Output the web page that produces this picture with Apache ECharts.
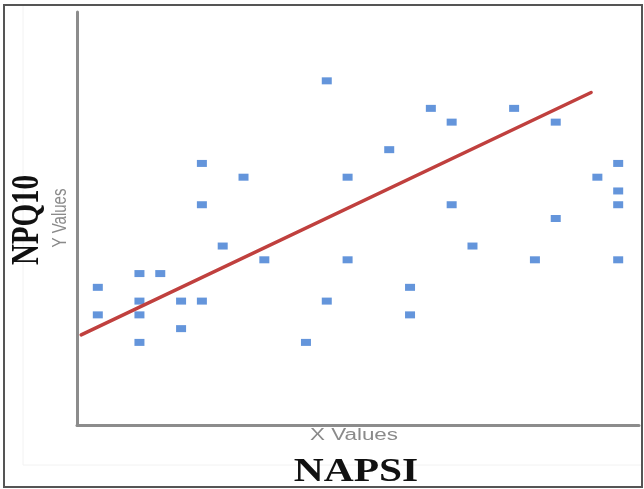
<!DOCTYPE html>
<html>
<head>
<meta charset="utf-8">
<script src="https://cdn.jsdelivr.net/npm/echarts@6/dist/echarts.min.js"></script>
<style>html,body{margin:0;padding:0;background:#fff}#c{width:644px;height:489px}</style>
</head>
<body>
<div id="c"></div>
<script>
// NAPSI (x) and NPQ10 (y) values
const napsi = [1,1,3,3,3,3,4,5,5,6,6,6,7,8,9,11,12,12,13,13,15,16,16,17,18,18,19,21,22,23,23,25,26,26,26,26];
const npq10 = [10,8,11,9,8,6,11,9,7,19,16,9,13,18,12,6,25,9,18,12,20,10,8,23,22,16,13,23,12,22,15,18,19,17,16,12];
// trend line end points
const trendX = [0.2, 24.7];
const trendY = [6.55, 24.15];
const xTitle = 'NAPSI';
const yTitle = 'NPQ10';
const xSub = 'X Values';
const ySub = 'Y Values';

const points = napsi.map((v, i) => [v, npq10[i]]);
const trend = trendX.map((v, i) => [v, trendY[i]]);

const chart = echarts.init(document.getElementById('c'), null, {renderer: 'canvas'});
const axisCommon = {
  type: 'value',
  axisLine: {show: true, onZero: false, lineStyle: {color: '#8c8c8c', width: 3}},
  axisTick: {show: false},
  axisLabel: {show: false},
  splitLine: {show: false}
};
chart.setOption({
  animation: false,
  backgroundColor: '#fff',
  grid: {left: 77, right: 5, top: 12, bottom: 64},
  xAxis: Object.assign({}, axisCommon, {min: 0, max: 27}),
  yAxis: Object.assign({}, axisCommon, {min: 0, max: 30}),
  series: [
    {
      type: 'scatter',
      data: points,
      symbol: 'rect',
      symbolSize: [10, 7],
      itemStyle: {color: '#3d7bd2'},
      z: 2
    },
    {
      type: 'line',
      data: trend,
      showSymbol: false,
      symbol: 'none',
      lineStyle: {color: '#c0403e', width: 3.5, cap: 'round'},
      z: 3
    }
  ],
  graphic: [
    {type: 'polyline', shape: {points: [[23, 5], [23, 465], [642, 465]]}, style: {stroke: '#f2f2f2', lineWidth: 1, fill: null}, silent: true},
    {type: 'rect', shape: {x: 4, y: 5, width: 638, height: 482}, style: {stroke: '#555', lineWidth: 2, fill: null}, silent: true},
    {type: 'text', x: 354, y: 436, scaleX: 1.4, style: {text: xSub, font: '16px "Liberation Sans", Arial', fill: '#8a8a8a', align: 'center', verticalAlign: 'middle'}},
    {type: 'text', x: 356, y: 472, scaleX: 1.22, style: {text: xTitle, font: 'bold 34px "Liberation Serif", "Times New Roman"', fill: '#111', align: 'center', verticalAlign: 'middle'}},
    {type: 'text', x: 60, y: 218, rotation: Math.PI / 2, scaleY: 1.35, style: {text: ySub, font: '15px "Liberation Sans", Arial', fill: '#8a8a8a', align: 'center', verticalAlign: 'middle'}},
    {type: 'text', x: 28, y: 220, rotation: Math.PI / 2, scaleY: 1.4, style: {text: yTitle, font: 'bold 29px "Liberation Serif", "Times New Roman"', fill: '#111', align: 'center', verticalAlign: 'middle'}}
  ]
});
</script>
</body>
</html>
